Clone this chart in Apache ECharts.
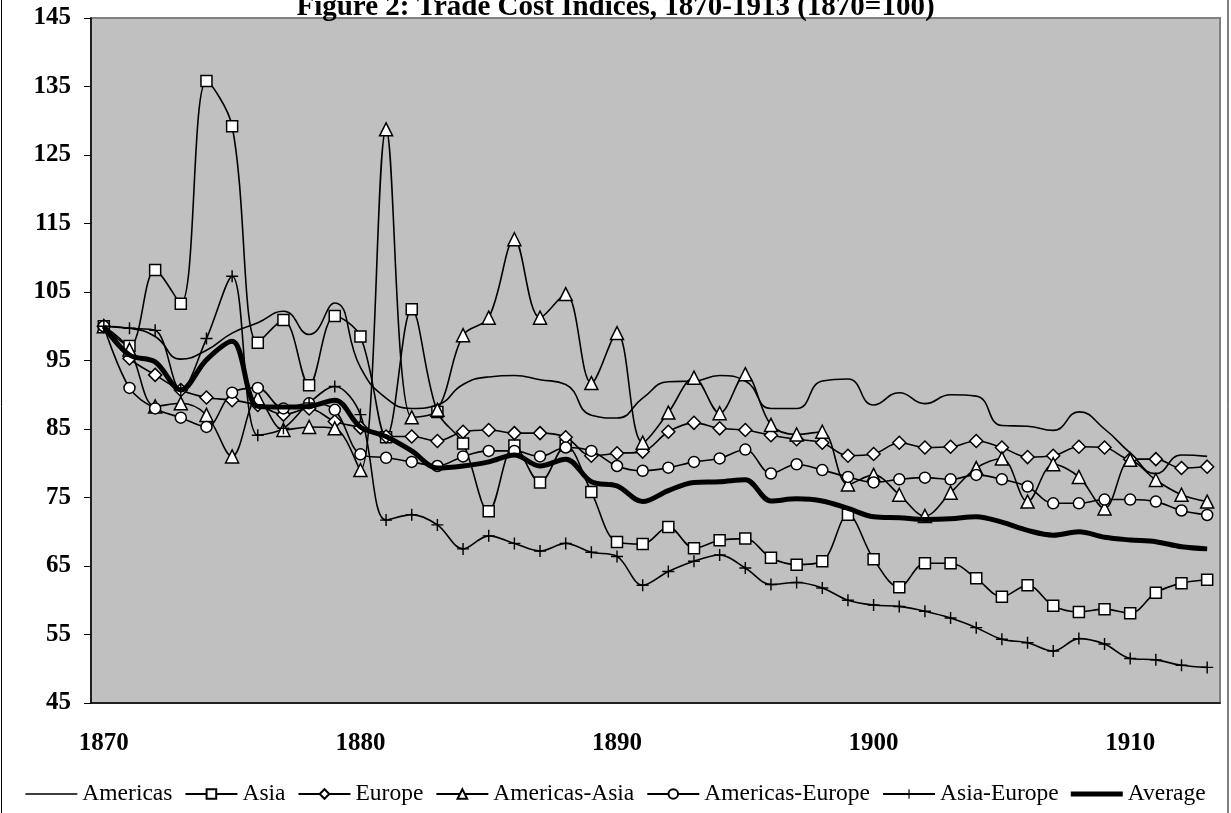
<!DOCTYPE html>
<html>
<head>
<meta charset="utf-8">
<script src="https://cdn.jsdelivr.net/npm/echarts@6/dist/echarts.min.js"></script>
<style>
  html, body { margin: 0; padding: 0; background: #fff; }
  #chart { width: 1231px; height: 813px; }
</style>
</head>
<body>
<div id="chart"></div>
<script>
// years 1870..1913
const years = [];
for (let y = 1870; y <= 1913; y++) years.push(String(y));

const americas = [100, 99.7, 98.5, 95.2, 96.5, 99, 100.5, 102.2, 98.8, 103.4,
	94, 89.5, 88, 88.5, 91.5, 92.6, 92.8, 92.2, 91.5, 87,
	86.6, 89.5, 91.9, 92, 92.8, 92, 88, 88, 92, 92.3,
	88.5, 90.3, 88.7, 90, 89.8, 85.5, 85.4, 84.8, 87.5, 85,
	81.5, 78.5, 81.2, 81];
const asia = [100, 97.1, 108.2, 103.3, 135.8, 129.2, 97.6, 100.9, 91.4, 101.5,
	98.5, 83.8, 102.5, 87.5, 82.9, 73.0, 82.6, 77.2, 82.6, 75.8,
	68.5, 68.2, 70.7, 67.6, 68.75, 69.0, 66.2, 65.2, 65.7, 72.5,
	66.0, 61.9, 65.4, 65.4, 63.2, 60.5, 62.2, 59.2, 58.3, 58.7,
	58.1, 61.1, 62.5, 63.0];
const europe = [100, 95.3, 92.9, 90.7, 89.6, 89.2, 88.5, 87.1, 88.0, 86.1,
	85.2, 83.9, 83.9, 83.25, 84.6, 84.85, 84.4, 84.4, 83.8, 81.1,
	81.45, 81.7, 84.6, 85.9, 85.1, 84.85, 84.1, 83.5, 83.0, 81.1,
	81.35, 83.0, 82.3, 82.4, 83.25, 82.3, 80.9, 81.1, 82.4, 82.3,
	80.6, 80.6, 79.3, 79.5];
const americasAsia = [100, 96.6, 88.3, 88.75, 87.05, 81, 89.5, 84.85, 85.3, 85.1,
	79, 128.75, 86.7, 87.8, 98.7, 101.25, 112.7, 101.25, 104.7, 91.7,
	99.0, 83.0, 87.4, 92.5, 87.3, 93.0, 85.6, 84.2, 84.6, 76.9,
	78.3, 75.4, 72.3, 75.7, 79.3, 80.7, 74.4, 79.85, 78.0, 73.4,
	80.5, 77.55, 75.4, 74.4];
const americasEurope = [100, 91.0, 88.0, 86.65, 85.3, 90.3, 91.0, 88.0, 88.75, 87.8,
	81.3, 80.8, 80.2, 79.6, 81.0, 81.8, 81.8, 81.0, 82.3, 81.8,
	79.6, 78.9, 79.35, 80.2, 80.7, 82.0, 78.5, 79.85, 79.0, 78.0,
	77.2, 77.65, 77.9, 77.65, 78.3, 77.65, 76.6, 74.15, 74.15, 74.7,
	74.7, 74.4, 73.1, 72.45];
const asiaEurope = [100, 99.7, 99.4, 90.7, 98.2, 107.3, 84.1, 85.1, 88.8, 91.2,
	87.1, 71.7, 72.5, 71.0, 67.5, 69.4, 68.3, 67.2, 68.3, 67.0,
	66.4, 62.2, 64.2, 65.7, 66.6, 64.7, 62.3, 62.6, 61.8, 60.0,
	59.3, 59.1, 58.4, 57.4, 56.0, 54.3, 53.8, 52.6, 54.4, 53.6,
	51.5, 51.3, 50.5, 50.2];
const average = [100, 95.8, 94.8, 90.7, 95.1, 97.8, 88.3, 88.2, 88.3, 89.2,
	85.3, 83.9, 81.8, 79.3, 79.6, 80.2, 81.2, 79.6, 80.6, 77.3,
	76.7, 74.4, 76.0, 77.2, 77.3, 77.6, 74.5, 74.8, 74.5, 73.4,
	72.2, 72.05, 71.8, 71.9, 72.2, 71.4, 70.2, 69.5, 70.0, 69.2,
	68.8, 68.55, 67.8, 67.5];

const yTicks = [45, 55, 65, 75, 85, 95, 105, 115, 125, 135, 145];

const serif = '"Liberation Serif", "Times New Roman", serif';
const plus = 'path://M4.4,0h1.2v10h-1.2z M0,4.4h10v1.2h-10z';
// plain legend strokes (tiny corner dots keep the box size so the bar stays thin)
const thinBar = 'path://M0,0h0.01v0.01h-0.01z M0,5.3h52v1.4h-52z M0,11.99h0.01v0.01h-0.01z';
const thickBar = 'path://M0,0h0.01v0.01h-0.01z M0,3.6h52v4.8h-52z M0,11.99h0.01v0.01h-0.01z';

function line(name, data, symbol, size, extra) {
	let s = {
		name: name,
		type: 'line',
		data: data,
		smooth: 0.35,
		symbol: symbol,
		symbolSize: size,
		showSymbol: symbol !== 'none',
		lineStyle: { color: '#000', width: 1.6 },
		itemStyle: { color: '#fff', borderColor: '#000', borderWidth: 1.5 },
		emphasis: { disabled: true },
		animation: false,
		z: 3
	};
	return Object.assign(s, extra || {});
}

let chart = echarts.init(document.getElementById('chart'));
let option = {
	backgroundColor: '#fff',
	animation: false,
	title: {
		text: 'Figure 2: Trade Cost Indices, 1870-1913 (1870=100)',
		left: 'center',
		top: -12,
		textStyle: { fontFamily: serif, fontWeight: 'bold', fontSize: 29, color: '#000' }
	},
	graphic: [{
		type: 'rect',
		shape: { x: 1.5, y: -20, width: 1226.5, height: 900 },
		style: { fill: 'none', stroke: '#000', lineWidth: 1 },
		silent: true
	}],
	legend: {
		bottom: 2,
		left: 'center',
		itemWidth: 52,
		itemHeight: 12,
		itemGap: 12,
		textStyle: { fontFamily: serif, fontSize: 23.5, color: '#000' },
		data: [
			{ name: 'Americas', icon: thinBar, itemStyle: { color: '#000', borderWidth: 0 } },
			'Asia', 'Europe', 'Americas-Asia', 'Americas-Europe', 'Asia-Europe',
			{ name: 'Average', icon: thickBar, itemStyle: { color: '#000', borderWidth: 0 } }
		]
	},
	grid: {
		left: 91, right: 11, top: 18, bottom: 110,
		show: true,
		backgroundColor: '#c0c0c0',
		borderColor: '#808080',
		borderWidth: 2
	},
	xAxis: {
		type: 'category',
		data: years,
		boundaryGap: true,
		axisLine: { lineStyle: { color: '#000', width: 1.5 } },
		axisTick: { interval: 9, length: 7, lineStyle: { color: '#000' } },
		axisLabel: {
			interval: 9, margin: 28, color: '#000',
			fontFamily: serif, fontWeight: 'bold', fontSize: 25
		},
		splitLine: { show: false }
	},
	yAxis: {
		type: 'value',
		min: yTicks[0],
		max: yTicks[yTicks.length - 1],
		interval: 10,
		axisLine: { show: true, lineStyle: { color: '#000', width: 1.5 } },
		axisTick: { show: true, length: 7, lineStyle: { color: '#000' } },
		axisLabel: {
			margin: 20, color: '#000',
			fontFamily: serif, fontWeight: 'bold', fontSize: 25
		},
		splitLine: { show: false }
	},
	series: [
		line('Americas', americas, 'none', 0, { smooth: 0.5, itemStyle: { color: '#000' } }),
		line('Asia', asia, 'rect', 11),
		line('Europe', europe, 'diamond', 13),
		line('Americas-Asia', americasAsia, 'triangle', 13),
		line('Americas-Europe', americasEurope, 'circle', 11),
		line('Asia-Europe', asiaEurope, plus, 12, { itemStyle: { color: '#000', borderWidth: 0 } }),
		line('Average', average, 'none', 0, { lineStyle: { color: '#000', width: 5 }, itemStyle: { color: '#000' }, z: 4 })
	]
};
chart.setOption(option);
</script>
</body>
</html>
